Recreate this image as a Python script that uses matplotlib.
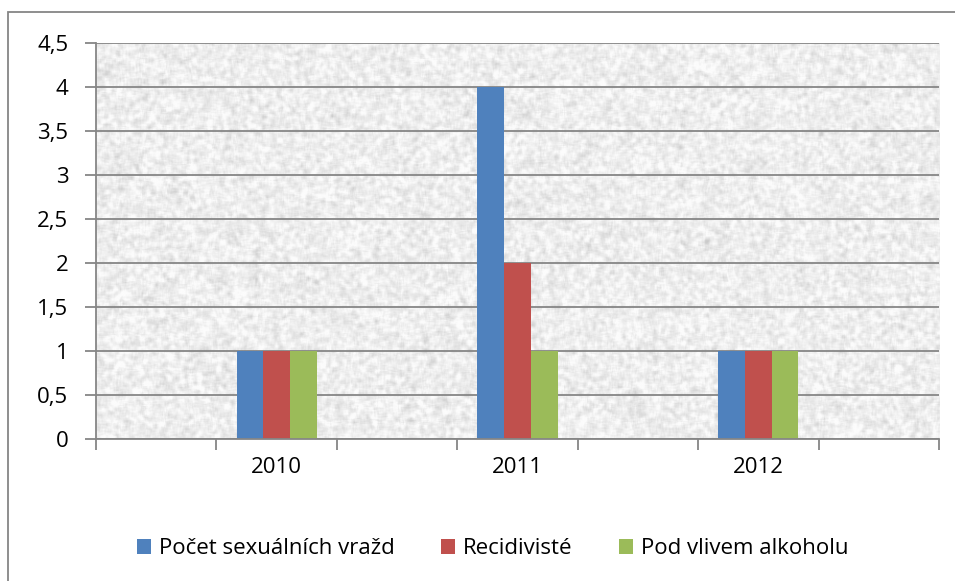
import numpy as np
import matplotlib
matplotlib.use("Agg")
import matplotlib.pyplot as plt
from matplotlib.patches import Rectangle, Patch

plt.rcParams['font.family'] = ['Open Sans', 'DejaVu Sans']

years = ["2010", "2011", "2012"]
pocet = [1, 4, 1]
recidiviste = [1, 2, 1]
alkohol = [1, 1, 1]
series_names = ["Počet sexuálních vražd", "Recidivisté", "Pod vlivem alkoholu"]
colors = ["#4F81BD", "#C0504D", "#9BBB59"]
yticks = [0, 0.5, 1, 1.5, 2, 2.5, 3, 3.5, 4, 4.5]

W, H = 955, 581
fig = plt.figure(figsize=(W / 100, H / 100), dpi=100)

# outer chart border
fig.patches.append(Rectangle((8 / W, -0.1), 1.1, 1 - 12 / H + 0.1, transform=fig.transFigure,
                             fill=False, edgecolor="#868686", linewidth=1.3))

ax = fig.add_axes([96 / W, 1 - 439 / H, (939 - 96) / W, (439 - 42.7) / H])

# granite-like background texture
rng = np.random.default_rng(3)
noise = rng.normal(size=(420, 880))
k = np.ones(5) / 5
for axis in (0, 1):
    noise = np.apply_along_axis(lambda m: np.convolve(m, k, mode="same"), axis, noise)
noise = (noise - noise.mean()) / noise.std()
tex = np.clip(238 + noise * 8, 195, 252) / 255.0
ax.imshow(tex, cmap="gray", vmin=0, vmax=1, extent=(0, 1, 0, 1), transform=ax.transAxes,
          aspect="auto", zorder=0, interpolation="bilinear")

x = np.arange(len(years)) * 2 + 1
bw = 0.222
for i, (vals, name, c) in enumerate(zip([pocet, recidiviste, alkohol], series_names, colors)):
    ax.bar(x + (i - 1) * bw, vals, width=bw, color=c, zorder=3, label=name)

ax.set_xlim(-0.5, 6.5)
ax.set_ylim(0, 4.5)
ax.set_yticks(yticks)
ax.set_yticklabels([("%g" % v).replace(".", ",") for v in yticks])
ax.set_xticks(x)
ax.set_xticklabels(years)
ax.set_xticks(np.arange(-0.5, 7, 1.0), minor=True)
ax.tick_params(axis="x", which="major", length=0, pad=13, labelsize=16)
ax.tick_params(axis="x", which="minor", length=8, width=1.3, color="#868686", direction="out")
ax.tick_params(axis="y", length=8, width=1.3, color="#868686", pad=12, labelsize=16)

ax.yaxis.grid(True, color="#868686", linewidth=1.3, zorder=1)
for gl in ax.get_ygridlines():
    gl.set_zorder(1)
for s in ["top", "right"]:
    ax.spines[s].set_visible(False)
for s in ["left", "bottom"]:
    ax.spines[s].set_color("#868686")
    ax.spines[s].set_linewidth(1.3)
    ax.spines[s].set_zorder(4)

handles = [Patch(facecolor=c, edgecolor="none") for c in colors]
fig.legend(handles, series_names, loc="center", bbox_to_anchor=(492.5 / W, 1 - 549 / H),
           ncol=3, frameon=False, fontsize=16, handlelength=0.65, handleheight=0.65,
           handletextpad=0.33, columnspacing=2.1, borderpad=0)

fig.savefig("out.png", dpi=100)
